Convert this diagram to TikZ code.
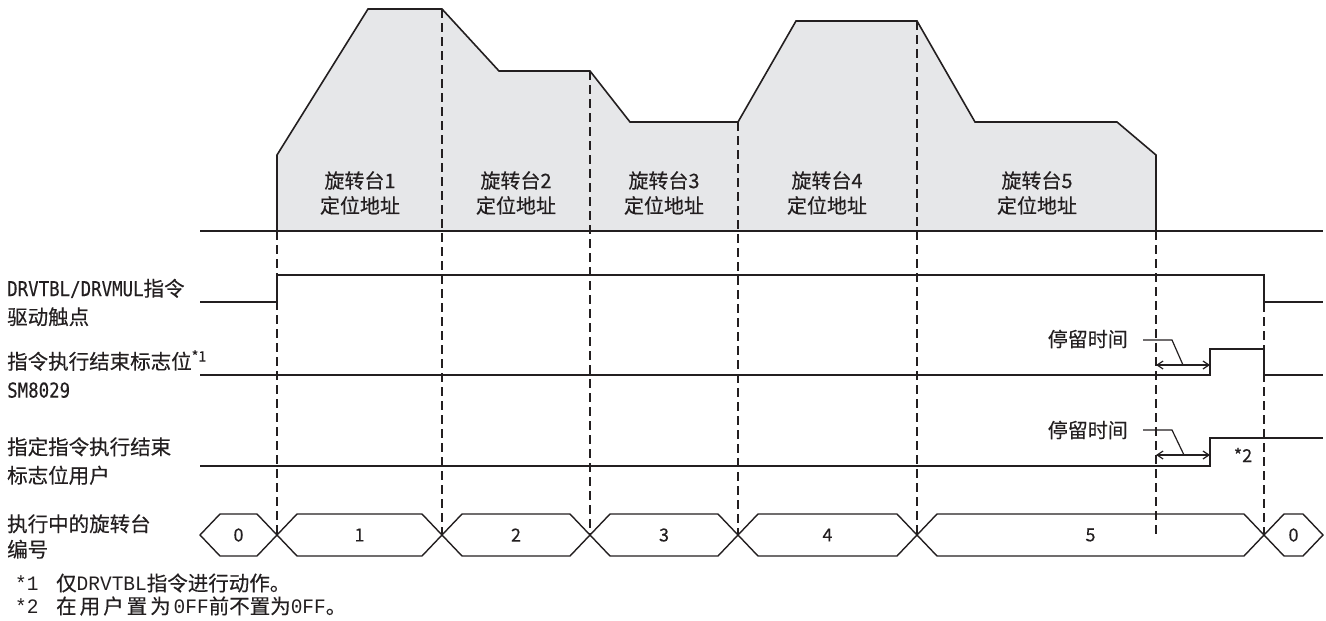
\documentclass[tikz,border=0pt]{standalone}
\usepackage{fontspec}
\setmainfont{Noto Sans CJK SC}[FakeBold=0.3]
\newfontfamily\hw[FakeStretch=0.85,FakeBold=0.3]{DejaVu Sans Mono}
\newfontfamily\hws[FakeStretch=0.95]{Liberation Mono}
\usetikzlibrary{arrows.meta}
\definecolor{ink}{RGB}{35,31,32}
\definecolor{fillg}{RGB}{230,231,233}
\begin{document}
\begin{tikzpicture}[x=1pt,y=-1pt,
  sig/.style={draw=ink,line width=1.6pt},
  hexline/.style={draw=ink,line width=1.4pt,line join=miter},
  guide/.style={draw=ink,line width=1.6pt,dash pattern=on 9pt off 5pt},
  lbl/.style={font=\fontsize{20.5}{28.5}\selectfont,anchor=west,align=left,inner sep=0pt,text=ink},
  plbl/.style={font=\fontsize{20}{25}\selectfont,align=center,inner sep=0pt,text=ink},
  num/.style={font=\fontsize{18}{20}\selectfont,inner sep=0pt,text=ink},
  footnote/.style={font=\fontsize{20.5}{24}\selectfont,anchor=west,inner sep=0pt,text=ink},
  dwell/.style={draw=ink,line width=1.2pt,{Straight Barb[length=6pt,width=8pt]}-{Straight Barb[length=6pt,width=8pt]}},
  lead/.style={draw=ink,line width=1.2pt}]
\useasboundingbox (0,0) rectangle (1326,621);
% speed profile
\fill[fillg] (277,231) -- (277,155) -- (368,9) -- (442,9) -- (499,71) -- (590,71) -- (630,122) -- (738,122) -- (796,21) -- (917,21) -- (975,122) -- (1117,122) -- (1156,155) -- (1156,231) -- cycle;
\draw[sig,line join=miter] (277,231) -- (277,155) -- (368,9) -- (442,9) -- (499,71) -- (590,71) -- (630,122) -- (738,122) -- (796,21) -- (917,21) -- (975,122) -- (1117,122) -- (1156,155) -- (1156,231);
\draw[sig] (200,231) -- (1323,231);
% profile labels
\node[plbl] (p1) at (360,193) {旋转台1\\定位地址};
\node[plbl] (p2) at (516,193) {旋转台2\\定位地址};
\node[plbl] (p3) at (664,193) {旋转台3\\定位地址};
\node[plbl] (p4) at (827,193) {旋转台4\\定位地址};
\node[plbl] (p5) at (1037,193) {旋转台5\\定位地址};
% guides
\draw[guide] (277,231) -- (277,535);
\draw[guide] (442,9) -- (442,535);
\draw[guide] (590,71) -- (590,535);
\draw[guide] (738,122) -- (738,535);
\draw[guide] (917,21) -- (917,535);
\draw[guide] (1156,231) -- (1156,535);
\draw[guide] (1264,275) -- (1264,535);
% signals
\draw[sig] (200,302) -- (277,302) -- (277,275) -- (1264,275) -- (1264,302) -- (1323,302);
\draw[sig] (200,375) -- (1210,375) -- (1210,349) -- (1264,349) -- (1264,375) -- (1323,375);
\draw[sig] (200,466) -- (1210,466) -- (1210,438) -- (1323,438);
% dwell annotations
\coordinate (d1a) at (1156,365); \coordinate (d1b) at (1210,365);
\coordinate (d2a) at (1156,455); \coordinate (d2b) at (1210,455);
\draw[dwell] (d1a) -- (d1b);
\draw[dwell] (d2a) -- (d2b);
\node[plbl,anchor=east] (t1) at (1128,339) {停留时间};
\node[plbl,anchor=east] (t2) at (1128,430) {停留时间};
\draw[lead] (t1.east) ++(15,1) -- (1172,340) -- (1183,365);
\draw[lead] (t2.east) ++(15,0) -- (1172,430) -- (1184,455);
\node[num] (s2) at (1243,455) {*2};
% bus
\foreach \a/\b/\n in {200/277/0,277/442/1,442/590/2,590/738/3,738/917/4,917/1264/5,1264/1323/0}{
  \draw[hexline] (\a,535) -- (\a+20,514) -- (\b-20,514) -- (\b,535) -- (\b-20,556) -- (\a+20,556) -- cycle;
  \node[num] (h\a) at ({(\a+\b)/2},535) {\n};
}
% left labels
\node[lbl] (l1) at (7,302.5) {{\hw DRVTBL/DRVMUL}指令\\驱动触点};
\node[lbl] (l2) at (7,374) {指令执行结束标志位\textsuperscript{*1}\\{\hw SM8029}};
\node[lbl] (l3) at (7,461) {指定指令执行结束\\标志位用户};
\node[lbl,font=\fontsize{20.5}{25.5}\selectfont] (l4) at (7,536.5) {执行中的旋转台\\编号};
% footnotes
\node[footnote] (n1a) at (15,583) {{\hws *1}};
\node[footnote] (n1b) at (56,583) {仅{\hws DRVTBL}指令进行动作。};
\node[footnote] (n2a) at (15,606) {{\hws *2}};
\node[footnote] (n2b) at (56,606) {在\kern3pt 用\kern3pt 户\kern3pt 置\kern3pt 为\kern3pt{\hws 0FF}前不置为{\hws 0FF}。};
\end{tikzpicture}
\end{document}
